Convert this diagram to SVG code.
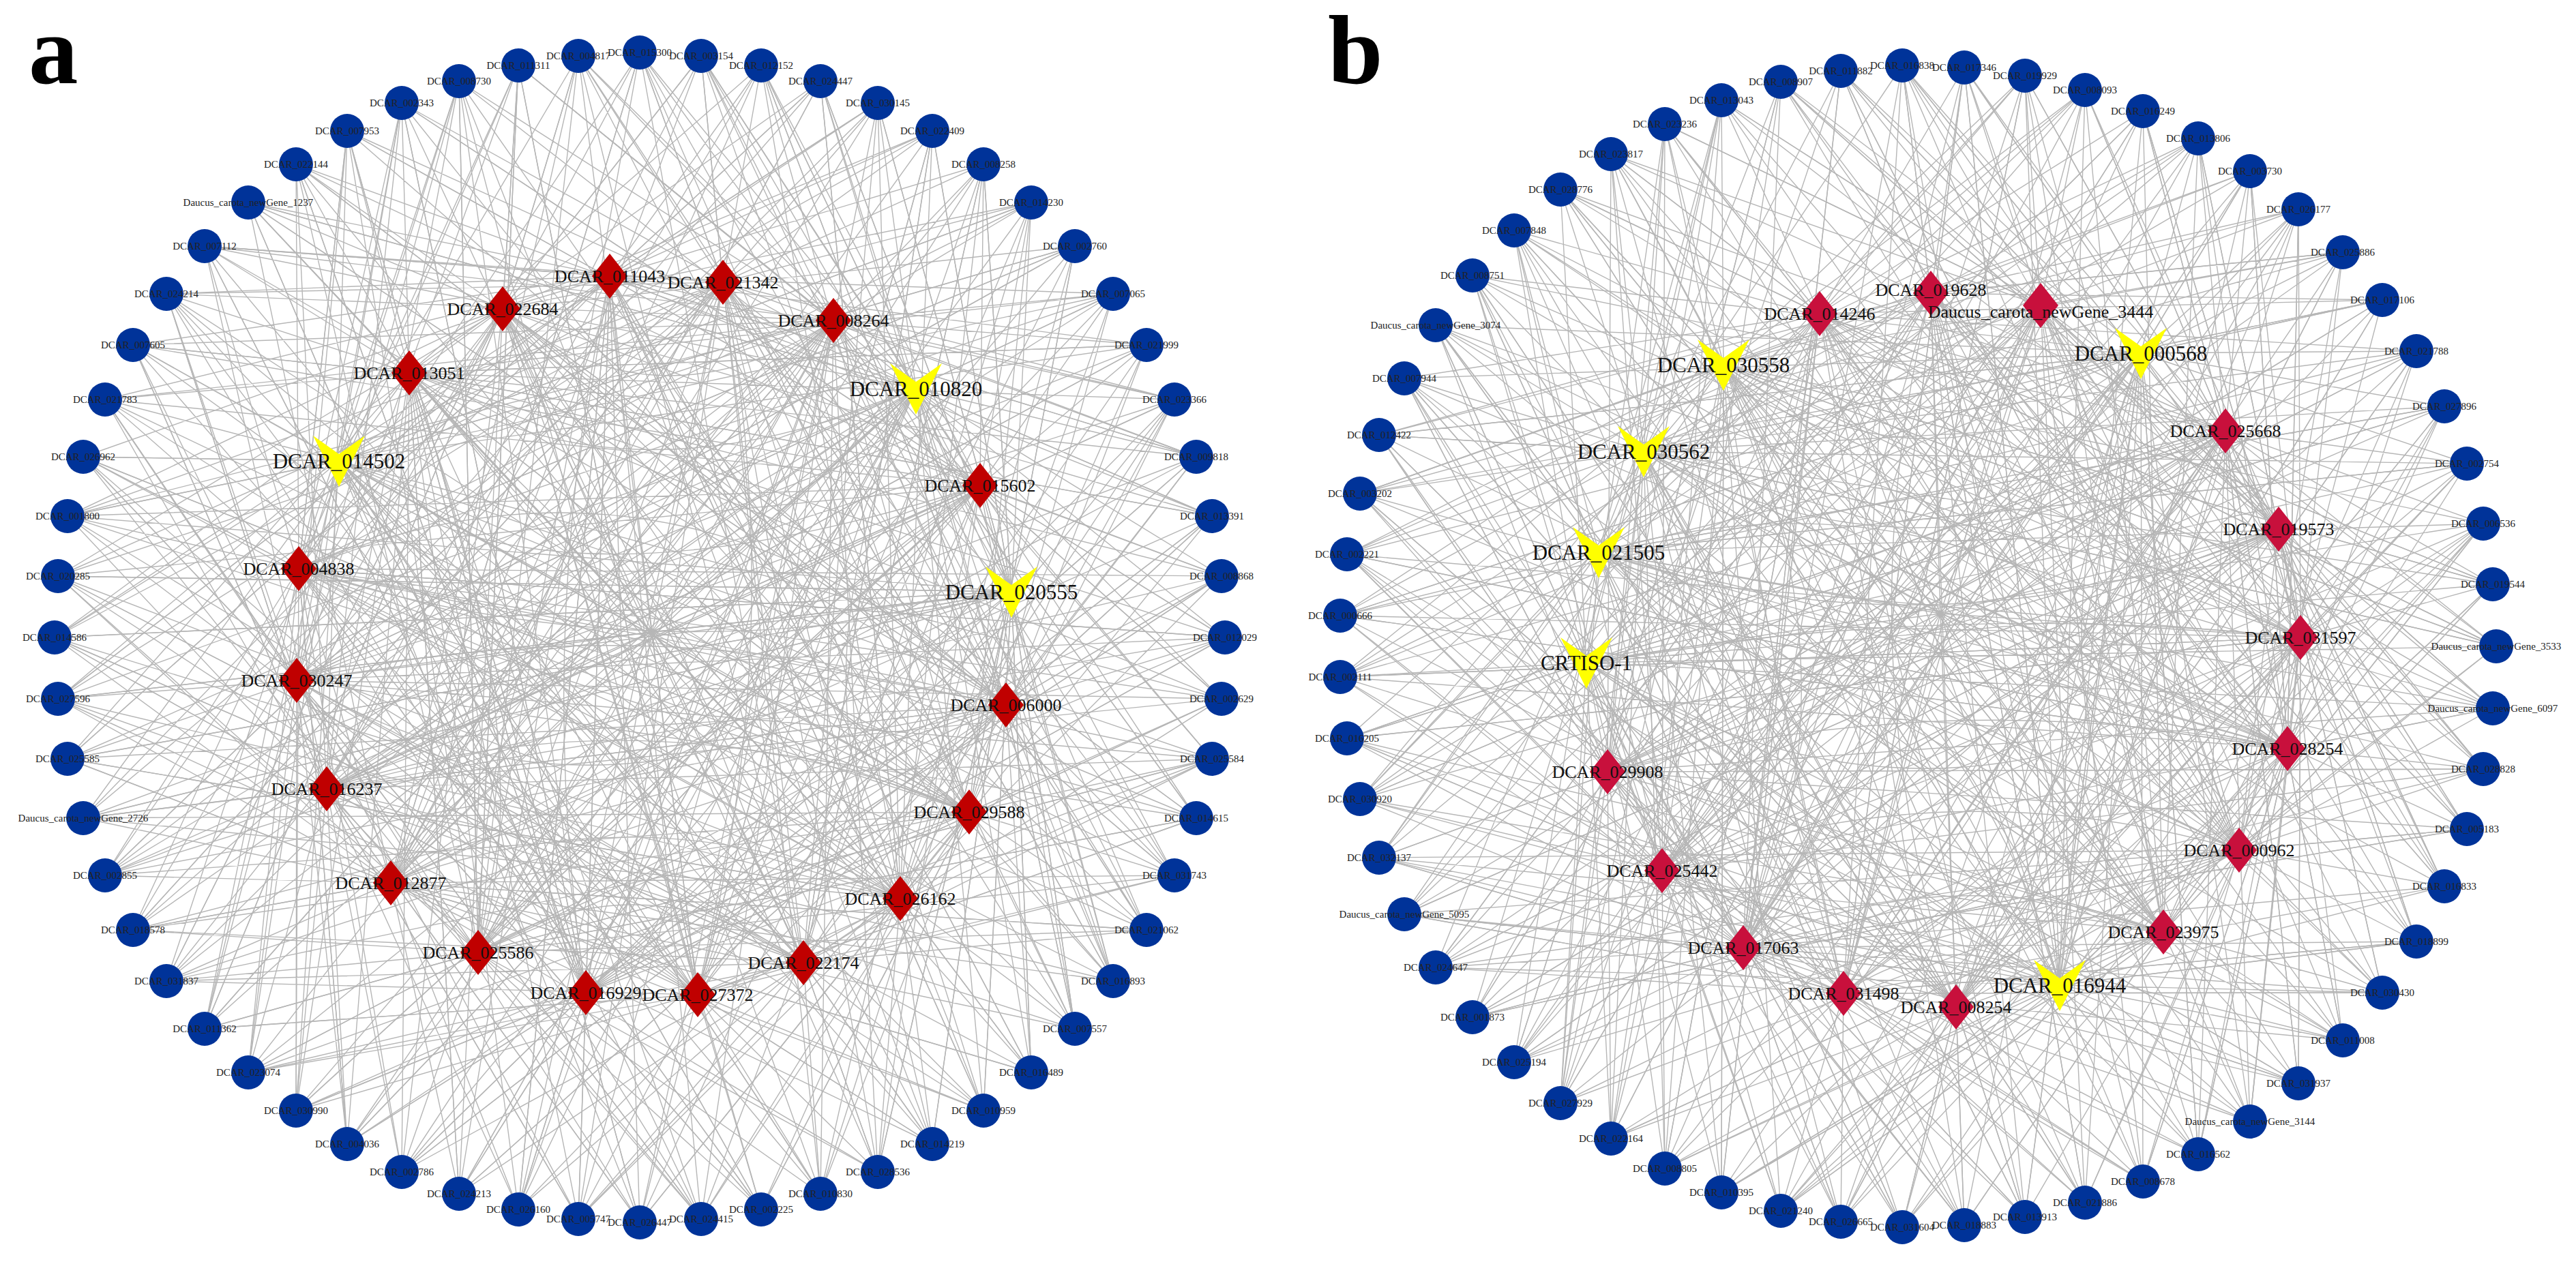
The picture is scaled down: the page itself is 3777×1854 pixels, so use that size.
<svg xmlns="http://www.w3.org/2000/svg" xmlns:xlink="http://www.w3.org/1999/xlink" width="3777" height="1854" viewBox="0 0 3777 1854">
<style>
.e{fill:none;stroke:#b6b6b6;stroke-width:1.4;stroke-linejoin:round}
.ou circle{fill:#003399}
.ou text{font-family:"Liberation Serif",serif;font-size:15px;fill:#222;text-anchor:middle}
.dn text,.vn text{font-family:"Liberation Serif",serif;fill:#111;text-anchor:middle}
.dn text{font-size:26px}
.vn text{font-size:31px}
.pa .dn use{fill:#c00000}
.pb .dn use{fill:#c8103c}
.vn use{fill:#ffff00}
.pl{font-family:"Liberation Serif",serif;font-size:145px;font-weight:bold;fill:#000}
</style>
<defs>
<path id="dia" d="M0 -33L26 0L0 33L-26 0Z"/>
<path id="vee" d="M-38 -37L0 -10L38 -37L0 38Z"/>
</defs>
<rect width="3777" height="1854" fill="#ffffff"/>
<text class="pl" x="42" y="122">a</text>
<text class="pl" x="1947" y="122">b</text>
<g id="connectors" class="e">
<path d="M938 77L737 453 1028 82 1437 712 1116 96 573 1295 1203 119 894 405 1287 151 1483 868 1367 192 1320 1318 1442 241 1060 414 1512 297 438 834 1576 361 701 1397 1632 431 1222 470 1681 506 435 998 1722 586 1178 1412 1754 670 600 547 1777 757 1475 1034 1791 845 859 1456 1796 935 1343 570 1791 1025 479 1157 1777 1113 1023 1459 1754 1200 497 676 1722 1284 1421 1191 1681 1364 737 453 1632 1439 1437 712 1576 1509 573 1295 1512 1573 894 405 1442 1629 1483 868 1367 1678 1320 1318 1287 1719 1060 414 1203 1751 438 834 1116 1774 701 1397 1028 1788 1222 470 938 1793 435 998 848 1788 1178 1412 760 1774 600 547 673 1751 1475 1034 589 1719 859 1456 509 1678 1343 570 434 1629 479 1157 364 1573 1023 1459 300 1509 497 676 244 1439 1421 1191 195 1364 737 453 154 1284 1437 712 122 1200 573 1295 99 1113 894 405 85 1025 1483 868 80 935 1320 1318 85 845 1060 414 99 757 438 834 122 670 701 1397 154 586 1222 470 195 506 435 998 244 431 1178 1412 300 361 600 547 364 297 1475 1034 434 241 859 1456 509 192 1343 570 589 151 479 1157 673 119 1023 1459 760 96 497 676 848 82 1421 1191 938 77"/>
<path d="M938 77L1343 570 1028 82 1483 868 1116 96 1475 1034 1203 119 573 1295 1287 151 1178 1412 1367 192 737 453 1442 241 1222 470 1512 297 497 676 1576 361 438 834 1632 431 479 1157 1681 506 1320 1318 1722 586 859 1456 1754 670 894 405 1777 757 600 547 1791 845 1437 712 1796 935 435 998 1791 1025 1421 1191 1777 1113 701 1397 1754 1200 1023 1459 1722 1284 1060 414 1681 1364 1343 570 1632 1439 1483 868 1576 1509 1475 1034 1512 1573 573 1295 1442 1629 1178 1412 1367 1678 737 453 1287 1719 1222 470 1203 1751 497 676 1116 1774 438 834 1028 1788 479 1157 938 1793 1320 1318 848 1788 859 1456 760 1774 894 405 673 1751 600 547 589 1719 1437 712 509 1678 435 998 434 1629 1421 1191 364 1573 701 1397 300 1509 1023 1459 244 1439 1060 414 195 1364 1343 570 154 1284 1483 868 122 1200 1475 1034 99 1113 573 1295 85 1025 1178 1412 80 935 737 453 85 845 1222 470 99 757 497 676 122 670 438 834 154 586 479 1157 195 506 1320 1318 244 431 859 1456 300 361 894 405 364 297 600 547 434 241 1437 712 509 192 435 998 589 151 1421 1191 673 119 701 1397 760 96 1023 1459 848 82 1060 414 938 77"/>
<path d="M938 77L1060 414 1028 82 1421 1191 1116 96 600 547 1203 119 1320 1318 1287 151 497 676 1367 192 1178 1412 1442 241 1483 868 1512 297 1023 1459 1576 361 435 998 1632 431 894 405 1681 506 479 1157 1722 586 1222 470 1754 670 573 1295 1777 757 1343 570 1791 845 701 1397 1796 935 1437 712 1791 1025 859 1456 1777 1113 438 834 1754 1200 737 453 1722 1284 1475 1034 1681 1364 1060 414 1632 1439 1421 1191 1576 1509 600 547 1512 1573 1320 1318 1442 1629 497 676 1367 1678 1178 1412 1287 1719 1483 868 1203 1751 1023 1459 1116 1774 435 998 1028 1788 894 405 938 1793 479 1157 848 1788 1222 470 760 1774 573 1295 673 1751 1343 570 589 1719 701 1397 509 1678 1437 712 434 1629 859 1456 364 1573 438 834 300 1509 737 453 244 1439 1475 1034 195 1364 1060 414 154 1284 1421 1191 122 1200 600 547 99 1113 1320 1318 85 1025 497 676 80 935 1178 1412 85 845 1483 868 99 757 1023 1459 122 670 435 998 154 586 894 405 195 506 479 1157 244 431 1222 470 300 361 573 1295 364 297 1343 570 434 241 701 1397 509 192 1437 712 589 151 859 1456 673 119 438 834 760 96 737 453 848 82 1475 1034 938 77"/>
<path d="M938 77L438 834 1028 82 1060 414 1116 96 1320 1318 1203 119 1483 868 1287 151 894 405 1367 192 573 1295 1442 241 1437 712 1512 297 737 453 1576 361 1421 1191 1632 431 497 676 1681 506 1023 1459 1722 586 479 1157 1754 670 1343 570 1777 757 859 1456 1791 845 1475 1034 1796 935 600 547 1791 1025 1178 1412 1777 1113 435 998 1754 1200 1222 470 1722 1284 701 1397 1681 1364 438 834 1632 1439 1060 414 1576 1509 1320 1318 1512 1573 1483 868 1442 1629 894 405 1367 1678 573 1295 1287 1719 1437 712 1203 1751 737 453 1116 1774 1421 1191 1028 1788 497 676 938 1793 1023 1459 848 1788 479 1157 760 1774 1343 570 673 1751 859 1456 589 1719 1475 1034 509 1678 600 547 434 1629 1178 1412 364 1573 435 998 300 1509 1222 470 244 1439 701 1397 195 1364 438 834 154 1284 1060 414 122 1200 1320 1318 99 1113 1483 868 85 1025 894 405 80 935 573 1295 85 845 1437 712 99 757 737 453 122 670 1421 1191 154 586 497 676 195 506 1023 1459 244 431 479 1157 300 361 1343 570 364 297 859 1456 434 241 1475 1034 509 192 600 547 589 151 1178 1412 673 119 435 998 760 96 1222 470 848 82 701 1397 938 77"/>
<path d="M938 77L573 1295 1028 82 1475 1034 1116 96 1483 868 1203 119 1343 570 1287 151 1060 414 1367 192 1023 1459 1442 241 701 1397 1512 297 1421 1191 1576 361 435 998 1632 431 1437 712 1681 506 600 547 1722 586 894 405 1754 670 859 1456 1777 757 1320 1318 1791 845 479 1157 1796 935 438 834 1791 1025 497 676 1777 1113 1222 470 1754 1200 737 453 1722 1284 1178 1412 1681 1364 573 1295 1632 1439 1475 1034 1576 1509 1483 868 1512 1573 1343 570 1442 1629 1060 414 1367 1678 1023 1459 1287 1719 701 1397 1203 1751 1421 1191 1116 1774 435 998 1028 1788 1437 712 938 1793 600 547 848 1788 894 405 760 1774 859 1456 673 1751 1320 1318 589 1719 479 1157 509 1678 438 834 434 1629 497 676 364 1573 1222 470 300 1509 737 453 244 1439 1178 1412 195 1364 573 1295 154 1284 1475 1034 122 1200 1483 868 99 1113 1343 570 85 1025 1060 414 80 935 1023 1459 85 845 701 1397 99 757 1421 1191 122 670 435 998 154 586 1437 712 195 506 600 547 244 431 894 405 300 361 859 1456 364 297 1320 1318 434 241 479 1157 509 192 438 834 589 151 497 676 673 119 1222 470 760 96 737 453 848 82 1178 1412 938 77"/>
<path d="M938 77L1222 470 1028 82 479 1157 1116 96 894 405 1203 119 435 998 1287 151 1023 1459 1367 192 1483 868 1442 241 1178 1412 1512 297 497 676 1576 361 1320 1318 1632 431 600 547 1681 506 1421 1191 1722 586 1060 414 1754 670 1475 1034 1777 757 737 453 1791 845 438 834 1796 935 859 1456 1791 1025 1437 712 1777 1113 701 1397 1754 1200 1343 570 1722 1284 573 1295 1681 1364 1222 470 1632 1439 479 1157 1576 1509 894 405 1512 1573 435 998 1442 1629 1023 1459 1367 1678 1483 868 1287 1719 1178 1412 1203 1751 497 676 1116 1774 1320 1318 1028 1788 600 547 938 1793 1421 1191 848 1788 1060 414 760 1774 1475 1034 673 1751 737 453 589 1719 438 834 509 1678 859 1456 434 1629 1437 712 364 1573 701 1397 300 1509 1343 570 244 1439 573 1295 195 1364 1222 470 154 1284 479 1157 122 1200 894 405 99 1113 435 998 85 1025 1023 1459 80 935 1483 868 85 845 1178 1412 99 757 497 676 122 670 1320 1318 154 586 600 547 195 506 1421 1191 244 431 1060 414 300 361 1475 1034 364 297 737 453 434 241 438 834 509 192 859 1456 589 151 1437 712 673 119 701 1397 760 96 1343 570 848 82 573 1295 938 77"/>
<path d="M737 453L435 998 1222 470 701 1397 1437 712 479 1157 894 405 1320 1318 438 834 1023 1459 600 547 1421 1191 497 676 1178 1412 1060 414 573 1295 1483 868 859 1456 1343 570 1475 1034 737 453"/>
<path d="M894 405L859 1456 1222 470 479 1157 1343 570 573 1295 1437 712 701 1397 1475 1034 438 834 1421 1191 600 547 1320 1318 737 453 1023 1459 497 676 1178 1412 435 998 1483 868 1060 414 701 1397"/>
<path d="M956 927L737 453M956 927L1060 414M956 927L1343 570M956 927L1483 868M956 927L1421 1191M956 927L1023 1459M956 927L701 1397M956 927L479 1157M956 927L438 834M956 927L600 547M956 927L894 405M956 927L1222 470M956 927L1437 712M956 927L1475 1034M956 927L1320 1318M956 927L859 1456M956 927L573 1295M956 927L435 998M956 927L497 676M956 927L1178 1412"/>
<path d="M737 453Q960 640 1222 470M600 547Q900 760 1343 570M497 676Q760 930 1437 712M438 834Q960 1000 1483 868M435 998Q960 880 1475 1034M479 1157Q960 1000 1421 1191M573 1295Q950 1150 1320 1318M701 1397Q940 1250 1178 1412M894 405Q780 930 859 1456M1060 414Q1160 930 1023 1459M600 547Q800 1100 701 1397M1343 570Q1150 1000 1320 1318M737 453Q1000 900 1421 1191M1222 470Q900 950 573 1295M894 405Q1200 900 1320 1318M1060 414Q700 900 701 1397M600 547Q1000 1000 1178 1412M1343 570Q900 1000 479 1157M497 676Q1000 1100 1023 1459M1437 712Q900 1100 859 1456M438 834Q1000 600 1475 1034M435 998Q950 1300 1483 868"/>
<path d="M3660 948L2668 460 3655 1039 2344 810 3641 1128 3283 1247 3617 1216 2831 430 3584 1300 3341 776 3543 1381 2556 1390 3493 1456 2992 448 3435 1526 2326 972 3370 1589 3172 1367 3299 1645 2527 535 3223 1693 3373 935 3142 1733 2703 1457 3057 1764 3139 518 2969 1785 2357 1132 2880 1797 2868 1477 2789 1800 2410 662 2699 1792 3354 1098 2611 1776 3020 1445 2524 1749 3263 632 2441 1714 2437 1277 2362 1670 2668 460 2288 1618 2344 810 2220 1558 3283 1247 2159 1492 2831 430 2105 1419 3341 776 2059 1341 2556 1390 2022 1258 2992 448 1994 1172 2326 972 1975 1083 3172 1367 1965 993 2527 535 1965 903 3373 935 1975 813 2703 1457 1994 724 3139 518 2022 638 2357 1132 2059 555 2868 1477 2105 477 2410 662 2159 404 3354 1098 2220 338 3020 1445 2288 278 3263 632 2362 226 2437 1277 2441 182 2668 460 2524 147 2344 810 2611 120 3283 1247 2699 104 2831 430 2789 96 3341 776 2880 99 2556 1390 2969 111 2992 448 3057 132 2326 972 3142 163 3172 1367 3223 203 2527 535 3299 251 3373 935 3370 307 2703 1457 3435 370 3139 518 3493 440 2357 1132 3543 515 2868 1477 3584 596 2410 662 3617 680 3354 1098 3641 768 3020 1445 3655 857 3263 632 3660 948"/>
<path d="M3660 948L2410 662 3655 1039 3341 776 3641 1128 2357 1132 3617 1216 3283 1247 3584 1300 2703 1457 3543 1381 2668 460 3493 1456 2527 535 3435 1526 3263 632 3370 1589 2326 972 3299 1645 3354 1098 3223 1693 2556 1390 3142 1733 2868 1477 3057 1764 2831 430 2969 1785 3139 518 2880 1797 2344 810 2789 1800 3373 935 2699 1792 2437 1277 2611 1776 3172 1367 2524 1749 3020 1445 2441 1714 2992 448 2362 1670 2410 662 2288 1618 3341 776 2220 1558 2357 1132 2159 1492 3283 1247 2105 1419 2703 1457 2059 1341 2668 460 2022 1258 2527 535 1994 1172 3263 632 1975 1083 2326 972 1965 993 3354 1098 1965 903 2556 1390 1975 813 2868 1477 1994 724 2831 430 2022 638 3139 518 2059 555 2344 810 2105 477 3373 935 2159 404 2437 1277 2220 338 3172 1367 2288 278 3020 1445 2362 226 2992 448 2441 182 2410 662 2524 147 3341 776 2611 120 2357 1132 2699 104 3283 1247 2789 96 2703 1457 2880 99 2668 460 2969 111 2527 535 3057 132 3263 632 3142 163 2326 972 3223 203 3354 1098 3299 251 2556 1390 3370 307 2868 1477 3435 370 2831 430 3493 440 3139 518 3543 515 2344 810 3584 596 3373 935 3617 680 2437 1277 3641 768 3172 1367 3655 857 3020 1445 3660 948"/>
<path d="M3660 948L2992 448 3655 1039 2437 1277 3641 1128 3139 518 3617 1216 2556 1390 3584 1300 3263 632 3543 1381 2703 1457 3493 1456 3341 776 3435 1526 3020 1445 3370 1589 3373 935 3299 1645 2831 430 3223 1693 3354 1098 3142 1733 2527 535 3057 1764 3283 1247 2969 1785 2410 662 2880 1797 3172 1367 2789 1800 2344 810 2699 1792 2868 1477 2611 1776 2326 972 2524 1749 2668 460 2441 1714 2357 1132 2362 1670 2992 448 2288 1618 2437 1277 2220 1558 3139 518 2159 1492 2556 1390 2105 1419 3263 632 2059 1341 2703 1457 2022 1258 3341 776 1994 1172 3020 1445 1975 1083 3373 935 1965 993 2831 430 1965 903 3354 1098 1975 813 2527 535 1994 724 3283 1247 2022 638 2410 662 2059 555 3172 1367 2105 477 2344 810 2159 404 2868 1477 2220 338 2326 972 2288 278 2668 460 2362 226 2357 1132 2441 182 2992 448 2524 147 2437 1277 2611 120 3139 518 2699 104 2556 1390 2789 96 3263 632 2880 99 2703 1457 2969 111 3341 776 3057 132 3020 1445 3142 163 3373 935 3223 203 2831 430 3299 251 3354 1098 3370 307 2527 535 3435 370 3283 1247 3493 440 2410 662 3543 515 3172 1367 3584 596 2344 810 3617 680 2868 1477 3641 768 2326 972 3655 857 2668 460 3660 948"/>
<path d="M3660 948L2326 972 3655 1039 2992 448 3641 1128 2556 1390 3617 1216 3341 776 3584 1300 2831 430 3543 1381 3283 1247 3493 1456 2344 810 3435 1526 2668 460 3370 1589 2437 1277 3299 1645 3263 632 3223 1693 3020 1445 3142 1733 3354 1098 3057 1764 2410 662 2969 1785 2868 1477 2880 1797 2357 1132 2789 1800 3139 518 2699 1792 2703 1457 2611 1776 3373 935 2524 1749 2527 535 2441 1714 3172 1367 2362 1670 2326 972 2288 1618 2992 448 2220 1558 2556 1390 2159 1492 3341 776 2105 1419 2831 430 2059 1341 3283 1247 2022 1258 2344 810 1994 1172 2668 460 1975 1083 2437 1277 1965 993 3263 632 1965 903 3020 1445 1975 813 3354 1098 1994 724 2410 662 2022 638 2868 1477 2059 555 2357 1132 2105 477 3139 518 2159 404 2703 1457 2220 338 3373 935 2288 278 2527 535 2362 226 3172 1367 2441 182 2326 972 2524 147 2992 448 2611 120 2556 1390 2699 104 3341 776 2789 96 2831 430 2880 99 3283 1247 2969 111 2344 810 3057 132 2668 460 3142 163 2437 1277 3223 203 3263 632 3299 251 3020 1445 3370 307 3354 1098 3435 370 2410 662 3493 440 2868 1477 3543 515 2357 1132 3584 596 3139 518 3617 680 2703 1457 3641 768 3373 935 3655 857 2527 535 3660 948"/>
<path d="M3660 948L3283 1247 3655 1039 2357 1132 3641 1128 3341 776 3617 1216 2410 662 3584 1300 2992 448 3543 1381 3020 1445 3493 1456 3172 1367 3435 1526 2437 1277 3370 1589 3373 935 3299 1645 2344 810 3223 1693 3139 518 3142 1733 2831 430 3057 1764 2868 1477 2969 1785 2556 1390 2880 1797 3354 1098 2789 1800 2326 972 2699 1792 3263 632 2611 1776 2527 535 2524 1749 2668 460 2441 1714 2703 1457 2362 1670 3283 1247 2288 1618 2357 1132 2220 1558 3341 776 2159 1492 2410 662 2105 1419 2992 448 2059 1341 3020 1445 2022 1258 3172 1367 1994 1172 2437 1277 1975 1083 3373 935 1965 993 2344 810 1965 903 3139 518 1975 813 2831 430 1994 724 2868 1477 2022 638 2556 1390 2059 555 3354 1098 2105 477 2326 972 2159 404 3263 632 2220 338 2527 535 2288 278 2668 460 2362 226 2703 1457 2441 182 3283 1247 2524 147 2357 1132 2611 120 3341 776 2699 104 2410 662 2789 96 2992 448 2880 99 3020 1445 2969 111 3172 1367 3057 132 2437 1277 3142 163 3373 935 3223 203 2344 810 3299 251 3139 518 3370 307 2831 430 3435 370 2868 1477 3493 440 2556 1390 3543 515 3354 1098 3584 596 2326 972 3617 680 3263 632 3641 768 2527 535 3655 857 2668 460 3660 948"/>
<path d="M3660 948L2527 535 3655 1039 3354 1098 3641 1128 2831 430 3617 1216 3373 935 3584 1300 3020 1445 3543 1381 3341 776 3493 1456 2703 1457 3435 1526 3263 632 3370 1589 2556 1390 3299 1645 3139 518 3223 1693 2437 1277 3142 1733 2992 448 3057 1764 2357 1132 2969 1785 2668 460 2880 1797 2326 972 2789 1800 2868 1477 2699 1792 2344 810 2611 1776 3172 1367 2524 1749 2410 662 2441 1714 3283 1247 2362 1670 2527 535 2288 1618 3354 1098 2220 1558 2831 430 2159 1492 3373 935 2105 1419 3020 1445 2059 1341 3341 776 2022 1258 2703 1457 1994 1172 3263 632 1975 1083 2556 1390 1965 993 3139 518 1965 903 2437 1277 1975 813 2992 448 1994 724 2357 1132 2022 638 2668 460 2059 555 2326 972 2105 477 2868 1477 2159 404 2344 810 2220 338 3172 1367 2288 278 2410 662 2362 226 3283 1247 2441 182 2527 535 2524 147 3354 1098 2611 120 2831 430 2699 104 3373 935 2789 96 3020 1445 2880 99 3341 776 2969 111 2703 1457 3057 132 3263 632 3142 163 2556 1390 3223 203 3139 518 3299 251 2437 1277 3370 307 2992 448 3435 370 2357 1132 3493 440 2668 460 3543 515 2326 972 3584 596 2868 1477 3617 680 2344 810 3641 768 3172 1367 3655 857 2410 662 3660 948"/>
<path d="M2668 460L3373 935 2527 535 3172 1367 2344 810 3354 1098 2831 430 2556 1390 2326 972 3020 1445 3139 518 2437 1277 3263 632 2703 1457 2992 448 3283 1247 3341 776 2868 1477 2410 662 2357 1132 2668 460"/>
<path d="M2831 430L2868 1477 2527 535 3354 1098 2410 662 3283 1247 2344 810 3172 1367 2357 1132 2326 972 2437 1277 3139 518 2556 1390 2668 460 3020 1445 3263 632 2703 1457 3373 935 3341 776 2992 448 3172 1367"/>
<path d="M2845 900L2668 460M2845 900L2992 448M2845 900L3263 632M2845 900L3373 935M2845 900L3283 1247M2845 900L3020 1445M2845 900L2703 1457M2845 900L2437 1277M2845 900L2326 972M2845 900L2410 662M2845 900L2831 430M2845 900L3139 518M2845 900L3341 776M2845 900L3354 1098M2845 900L3172 1367M2845 900L2868 1477M2845 900L2556 1390M2845 900L2357 1132M2845 900L2344 810M2845 900L2527 535"/>
<path d="M2668 460Q2840 640 2992 448M2527 535Q2840 760 3139 518M2410 662Q2840 900 3263 632M2344 810Q2850 980 3341 776M2326 972Q2850 880 3373 935M2357 1132Q2850 1000 3354 1098M2437 1277Q2850 1120 3283 1247M2556 1390Q2860 1250 3172 1367M2703 1457Q2860 1350 3020 1445M2831 430Q2700 950 2868 1477M2527 535Q2740 1000 2556 1390M3139 518Q2950 1000 3172 1367M2668 460Q2900 900 3283 1247M2992 448Q2700 950 2437 1277M2831 430Q3100 900 3172 1367M2527 535Q2600 1000 2703 1457M3139 518Q2800 1000 2556 1390M2410 662Q2900 1000 3020 1445M3263 632Q2800 1050 2357 1132M3341 776Q2900 1200 2868 1477M2344 810Q2900 650 3354 1098M2326 972Q2850 1300 3373 935"/>
</g>
<g id="panel-a" class="pa">
<g id="a-outer" class="ou">
<g id="a-DCAR_015300"><circle cx="938" cy="77" r="25"/><text x="938" y="82">DCAR_015300</text></g>
<g id="a-DCAR_003154"><circle cx="1028" cy="82" r="25"/><text x="1028" y="87">DCAR_003154</text></g>
<g id="a-DCAR_012152"><circle cx="1116" cy="96" r="25"/><text x="1116" y="101">DCAR_012152</text></g>
<g id="a-DCAR_024447"><circle cx="1203" cy="119" r="25"/><text x="1203" y="124">DCAR_024447</text></g>
<g id="a-DCAR_030145"><circle cx="1287" cy="151" r="25"/><text x="1287" y="156">DCAR_030145</text></g>
<g id="a-DCAR_022409"><circle cx="1367" cy="192" r="25"/><text x="1367" y="197">DCAR_022409</text></g>
<g id="a-DCAR_008258"><circle cx="1442" cy="241" r="25"/><text x="1442" y="246">DCAR_008258</text></g>
<g id="a-DCAR_014230"><circle cx="1512" cy="297" r="25"/><text x="1512" y="302">DCAR_014230</text></g>
<g id="a-DCAR_002760"><circle cx="1576" cy="361" r="25"/><text x="1576" y="366">DCAR_002760</text></g>
<g id="a-DCAR_007065"><circle cx="1632" cy="431" r="25"/><text x="1632" y="436">DCAR_007065</text></g>
<g id="a-DCAR_021999"><circle cx="1681" cy="506" r="25"/><text x="1681" y="511">DCAR_021999</text></g>
<g id="a-DCAR_023366"><circle cx="1722" cy="586" r="25"/><text x="1722" y="591">DCAR_023366</text></g>
<g id="a-DCAR_009818"><circle cx="1754" cy="670" r="25"/><text x="1754" y="675">DCAR_009818</text></g>
<g id="a-DCAR_013391"><circle cx="1777" cy="757" r="25"/><text x="1777" y="762">DCAR_013391</text></g>
<g id="a-DCAR_008868"><circle cx="1791" cy="845" r="25"/><text x="1791" y="850">DCAR_008868</text></g>
<g id="a-DCAR_012029"><circle cx="1796" cy="935" r="25"/><text x="1796" y="940">DCAR_012029</text></g>
<g id="a-DCAR_002629"><circle cx="1791" cy="1025" r="25"/><text x="1791" y="1030">DCAR_002629</text></g>
<g id="a-DCAR_025584"><circle cx="1777" cy="1113" r="25"/><text x="1777" y="1118">DCAR_025584</text></g>
<g id="a-DCAR_014615"><circle cx="1754" cy="1200" r="25"/><text x="1754" y="1205">DCAR_014615</text></g>
<g id="a-DCAR_031743"><circle cx="1722" cy="1284" r="25"/><text x="1722" y="1289">DCAR_031743</text></g>
<g id="a-DCAR_021062"><circle cx="1681" cy="1364" r="25"/><text x="1681" y="1369">DCAR_021062</text></g>
<g id="a-DCAR_016893"><circle cx="1632" cy="1439" r="25"/><text x="1632" y="1444">DCAR_016893</text></g>
<g id="a-DCAR_007557"><circle cx="1576" cy="1509" r="25"/><text x="1576" y="1514">DCAR_007557</text></g>
<g id="a-DCAR_016489"><circle cx="1512" cy="1573" r="25"/><text x="1512" y="1578">DCAR_016489</text></g>
<g id="a-DCAR_010959"><circle cx="1442" cy="1629" r="25"/><text x="1442" y="1634">DCAR_010959</text></g>
<g id="a-DCAR_014219"><circle cx="1367" cy="1678" r="25"/><text x="1367" y="1683">DCAR_014219</text></g>
<g id="a-DCAR_028536"><circle cx="1287" cy="1719" r="25"/><text x="1287" y="1724">DCAR_028536</text></g>
<g id="a-DCAR_010830"><circle cx="1203" cy="1751" r="25"/><text x="1203" y="1756">DCAR_010830</text></g>
<g id="a-DCAR_002225"><circle cx="1116" cy="1774" r="25"/><text x="1116" y="1779">DCAR_002225</text></g>
<g id="a-DCAR_024415"><circle cx="1028" cy="1788" r="25"/><text x="1028" y="1793">DCAR_024415</text></g>
<g id="a-DCAR_026447"><circle cx="938" cy="1793" r="25"/><text x="938" y="1798">DCAR_026447</text></g>
<g id="a-DCAR_005747"><circle cx="848" cy="1788" r="25"/><text x="848" y="1793">DCAR_005747</text></g>
<g id="a-DCAR_026160"><circle cx="760" cy="1774" r="25"/><text x="760" y="1779">DCAR_026160</text></g>
<g id="a-DCAR_024213"><circle cx="673" cy="1751" r="25"/><text x="673" y="1756">DCAR_024213</text></g>
<g id="a-DCAR_002786"><circle cx="589" cy="1719" r="25"/><text x="589" y="1724">DCAR_002786</text></g>
<g id="a-DCAR_004036"><circle cx="509" cy="1678" r="25"/><text x="509" y="1683">DCAR_004036</text></g>
<g id="a-DCAR_030990"><circle cx="434" cy="1629" r="25"/><text x="434" y="1634">DCAR_030990</text></g>
<g id="a-DCAR_023074"><circle cx="364" cy="1573" r="25"/><text x="364" y="1578">DCAR_023074</text></g>
<g id="a-DCAR_011362"><circle cx="300" cy="1509" r="25"/><text x="300" y="1514">DCAR_011362</text></g>
<g id="a-DCAR_031837"><circle cx="244" cy="1439" r="25"/><text x="244" y="1444">DCAR_031837</text></g>
<g id="a-DCAR_018578"><circle cx="195" cy="1364" r="25"/><text x="195" y="1369">DCAR_018578</text></g>
<g id="a-DCAR_002855"><circle cx="154" cy="1284" r="25"/><text x="154" y="1289">DCAR_002855</text></g>
<g id="a-Daucus_carota_newGene_2726"><circle cx="122" cy="1200" r="25"/><text x="122" y="1205">Daucus_carota_newGene_2726</text></g>
<g id="a-DCAR_025585"><circle cx="99" cy="1113" r="25"/><text x="99" y="1118">DCAR_025585</text></g>
<g id="a-DCAR_027596"><circle cx="85" cy="1025" r="25"/><text x="85" y="1030">DCAR_027596</text></g>
<g id="a-DCAR_014586"><circle cx="80" cy="935" r="25"/><text x="80" y="940">DCAR_014586</text></g>
<g id="a-DCAR_020285"><circle cx="85" cy="845" r="25"/><text x="85" y="850">DCAR_020285</text></g>
<g id="a-DCAR_001800"><circle cx="99" cy="757" r="25"/><text x="99" y="762">DCAR_001800</text></g>
<g id="a-DCAR_026962"><circle cx="122" cy="670" r="25"/><text x="122" y="675">DCAR_026962</text></g>
<g id="a-DCAR_021783"><circle cx="154" cy="586" r="25"/><text x="154" y="591">DCAR_021783</text></g>
<g id="a-DCAR_007605"><circle cx="195" cy="506" r="25"/><text x="195" y="511">DCAR_007605</text></g>
<g id="a-DCAR_024214"><circle cx="244" cy="431" r="25"/><text x="244" y="436">DCAR_024214</text></g>
<g id="a-DCAR_007112"><circle cx="300" cy="361" r="25"/><text x="300" y="366">DCAR_007112</text></g>
<g id="a-Daucus_carota_newGene_1237"><circle cx="364" cy="297" r="25"/><text x="364" y="302">Daucus_carota_newGene_1237</text></g>
<g id="a-DCAR_022144"><circle cx="434" cy="241" r="25"/><text x="434" y="246">DCAR_022144</text></g>
<g id="a-DCAR_007953"><circle cx="509" cy="192" r="25"/><text x="509" y="197">DCAR_007953</text></g>
<g id="a-DCAR_002343"><circle cx="589" cy="151" r="25"/><text x="589" y="156">DCAR_002343</text></g>
<g id="a-DCAR_008730"><circle cx="673" cy="119" r="25"/><text x="673" y="124">DCAR_008730</text></g>
<g id="a-DCAR_011311"><circle cx="760" cy="96" r="25"/><text x="760" y="101">DCAR_011311</text></g>
<g id="a-DCAR_004817"><circle cx="848" cy="82" r="25"/><text x="848" y="87">DCAR_004817</text></g>
</g>
<g id="a-inner">
<g id="a-DCAR_022684" class="dn"><use href="#dia" x="737" y="453"/><text x="737" y="462">DCAR_022684</text></g>
<g id="a-DCAR_011043" class="dn"><use href="#dia" x="894" y="405"/><text x="894" y="414">DCAR_011043</text></g>
<g id="a-DCAR_021342" class="dn"><use href="#dia" x="1060" y="414"/><text x="1060" y="423">DCAR_021342</text></g>
<g id="a-DCAR_008264" class="dn"><use href="#dia" x="1222" y="470"/><text x="1222" y="479">DCAR_008264</text></g>
<g id="a-DCAR_013051" class="dn"><use href="#dia" x="600" y="547"/><text x="600" y="556">DCAR_013051</text></g>
<g id="a-DCAR_010820" class="vn"><use href="#vee" x="1343" y="570"/><text x="1343" y="581">DCAR_010820</text></g>
<g id="a-DCAR_014502" class="vn"><use href="#vee" x="497" y="676"/><text x="497" y="687">DCAR_014502</text></g>
<g id="a-DCAR_015602" class="dn"><use href="#dia" x="1437" y="712"/><text x="1437" y="721">DCAR_015602</text></g>
<g id="a-DCAR_020555" class="vn"><use href="#vee" x="1483" y="868"/><text x="1483" y="879">DCAR_020555</text></g>
<g id="a-DCAR_004838" class="dn"><use href="#dia" x="438" y="834"/><text x="438" y="843">DCAR_004838</text></g>
<g id="a-DCAR_030247" class="dn"><use href="#dia" x="435" y="998"/><text x="435" y="1007">DCAR_030247</text></g>
<g id="a-DCAR_006000" class="dn"><use href="#dia" x="1475" y="1034"/><text x="1475" y="1043">DCAR_006000</text></g>
<g id="a-DCAR_016237" class="dn"><use href="#dia" x="479" y="1157"/><text x="479" y="1166">DCAR_016237</text></g>
<g id="a-DCAR_029588" class="dn"><use href="#dia" x="1421" y="1191"/><text x="1421" y="1200">DCAR_029588</text></g>
<g id="a-DCAR_012877" class="dn"><use href="#dia" x="573" y="1295"/><text x="573" y="1304">DCAR_012877</text></g>
<g id="a-DCAR_026162" class="dn"><use href="#dia" x="1320" y="1318"/><text x="1320" y="1327">DCAR_026162</text></g>
<g id="a-DCAR_025586" class="dn"><use href="#dia" x="701" y="1397"/><text x="701" y="1406">DCAR_025586</text></g>
<g id="a-DCAR_022174" class="dn"><use href="#dia" x="1178" y="1412"/><text x="1178" y="1421">DCAR_022174</text></g>
<g id="a-DCAR_016929" class="dn"><use href="#dia" x="859" y="1456"/><text x="859" y="1465">DCAR_016929</text></g>
<g id="a-DCAR_027372" class="dn"><use href="#dia" x="1023" y="1459"/><text x="1023" y="1468">DCAR_027372</text></g>
</g>
</g>
<g id="panel-b" class="pb">
<g id="b-outer" class="ou">
<g id="b-Daucus_carota_newGene_3533"><circle cx="3660" cy="948" r="25"/><text x="3660" y="953">Daucus_carota_newGene_3533</text></g>
<g id="b-Daucus_carota_newGene_6097"><circle cx="3655" cy="1039" r="25"/><text x="3655" y="1044">Daucus_carota_newGene_6097</text></g>
<g id="b-DCAR_028828"><circle cx="3641" cy="1128" r="25"/><text x="3641" y="1133">DCAR_028828</text></g>
<g id="b-DCAR_005183"><circle cx="3617" cy="1216" r="25"/><text x="3617" y="1221">DCAR_005183</text></g>
<g id="b-DCAR_016833"><circle cx="3584" cy="1300" r="25"/><text x="3584" y="1305">DCAR_016833</text></g>
<g id="b-DCAR_018899"><circle cx="3543" cy="1381" r="25"/><text x="3543" y="1386">DCAR_018899</text></g>
<g id="b-DCAR_030430"><circle cx="3493" cy="1456" r="25"/><text x="3493" y="1461">DCAR_030430</text></g>
<g id="b-DCAR_011008"><circle cx="3435" cy="1526" r="25"/><text x="3435" y="1531">DCAR_011008</text></g>
<g id="b-DCAR_031937"><circle cx="3370" cy="1589" r="25"/><text x="3370" y="1594">DCAR_031937</text></g>
<g id="b-Daucus_carota_newGene_3144"><circle cx="3299" cy="1645" r="25"/><text x="3299" y="1650">Daucus_carota_newGene_3144</text></g>
<g id="b-DCAR_016562"><circle cx="3223" cy="1693" r="25"/><text x="3223" y="1698">DCAR_016562</text></g>
<g id="b-DCAR_008678"><circle cx="3142" cy="1733" r="25"/><text x="3142" y="1738">DCAR_008678</text></g>
<g id="b-DCAR_021886"><circle cx="3057" cy="1764" r="25"/><text x="3057" y="1769">DCAR_021886</text></g>
<g id="b-DCAR_013913"><circle cx="2969" cy="1785" r="25"/><text x="2969" y="1790">DCAR_013913</text></g>
<g id="b-DCAR_018883"><circle cx="2880" cy="1797" r="25"/><text x="2880" y="1802">DCAR_018883</text></g>
<g id="b-DCAR_031604"><circle cx="2789" cy="1800" r="25"/><text x="2789" y="1805">DCAR_031604</text></g>
<g id="b-DCAR_026665"><circle cx="2699" cy="1792" r="25"/><text x="2699" y="1797">DCAR_026665</text></g>
<g id="b-DCAR_021240"><circle cx="2611" cy="1776" r="25"/><text x="2611" y="1781">DCAR_021240</text></g>
<g id="b-DCAR_010395"><circle cx="2524" cy="1749" r="25"/><text x="2524" y="1754">DCAR_010395</text></g>
<g id="b-DCAR_008805"><circle cx="2441" cy="1714" r="25"/><text x="2441" y="1719">DCAR_008805</text></g>
<g id="b-DCAR_022164"><circle cx="2362" cy="1670" r="25"/><text x="2362" y="1675">DCAR_022164</text></g>
<g id="b-DCAR_027929"><circle cx="2288" cy="1618" r="25"/><text x="2288" y="1623">DCAR_027929</text></g>
<g id="b-DCAR_025194"><circle cx="2220" cy="1558" r="25"/><text x="2220" y="1563">DCAR_025194</text></g>
<g id="b-DCAR_001873"><circle cx="2159" cy="1492" r="25"/><text x="2159" y="1497">DCAR_001873</text></g>
<g id="b-DCAR_024647"><circle cx="2105" cy="1419" r="25"/><text x="2105" y="1424">DCAR_024647</text></g>
<g id="b-Daucus_carota_newGene_5095"><circle cx="2059" cy="1341" r="25"/><text x="2059" y="1346">Daucus_carota_newGene_5095</text></g>
<g id="b-DCAR_032137"><circle cx="2022" cy="1258" r="25"/><text x="2022" y="1263">DCAR_032137</text></g>
<g id="b-DCAR_030920"><circle cx="1994" cy="1172" r="25"/><text x="1994" y="1177">DCAR_030920</text></g>
<g id="b-DCAR_016205"><circle cx="1975" cy="1083" r="25"/><text x="1975" y="1088">DCAR_016205</text></g>
<g id="b-DCAR_002111"><circle cx="1965" cy="993" r="25"/><text x="1965" y="998">DCAR_002111</text></g>
<g id="b-DCAR_000666"><circle cx="1965" cy="903" r="25"/><text x="1965" y="908">DCAR_000666</text></g>
<g id="b-DCAR_002221"><circle cx="1975" cy="813" r="25"/><text x="1975" y="818">DCAR_002221</text></g>
<g id="b-DCAR_003202"><circle cx="1994" cy="724" r="25"/><text x="1994" y="729">DCAR_003202</text></g>
<g id="b-DCAR_012422"><circle cx="2022" cy="638" r="25"/><text x="2022" y="643">DCAR_012422</text></g>
<g id="b-DCAR_007944"><circle cx="2059" cy="555" r="25"/><text x="2059" y="560">DCAR_007944</text></g>
<g id="b-Daucus_carota_newGene_3074"><circle cx="2105" cy="477" r="25"/><text x="2105" y="482">Daucus_carota_newGene_3074</text></g>
<g id="b-DCAR_008751"><circle cx="2159" cy="404" r="25"/><text x="2159" y="409">DCAR_008751</text></g>
<g id="b-DCAR_007848"><circle cx="2220" cy="338" r="25"/><text x="2220" y="343">DCAR_007848</text></g>
<g id="b-DCAR_028776"><circle cx="2288" cy="278" r="25"/><text x="2288" y="283">DCAR_028776</text></g>
<g id="b-DCAR_023817"><circle cx="2362" cy="226" r="25"/><text x="2362" y="231">DCAR_023817</text></g>
<g id="b-DCAR_023236"><circle cx="2441" cy="182" r="25"/><text x="2441" y="187">DCAR_023236</text></g>
<g id="b-DCAR_013043"><circle cx="2524" cy="147" r="25"/><text x="2524" y="152">DCAR_013043</text></g>
<g id="b-DCAR_008907"><circle cx="2611" cy="120" r="25"/><text x="2611" y="125">DCAR_008907</text></g>
<g id="b-DCAR_011882"><circle cx="2699" cy="104" r="25"/><text x="2699" y="109">DCAR_011882</text></g>
<g id="b-DCAR_016838"><circle cx="2789" cy="96" r="25"/><text x="2789" y="101">DCAR_016838</text></g>
<g id="b-DCAR_017346"><circle cx="2880" cy="99" r="25"/><text x="2880" y="104">DCAR_017346</text></g>
<g id="b-DCAR_019929"><circle cx="2969" cy="111" r="25"/><text x="2969" y="116">DCAR_019929</text></g>
<g id="b-DCAR_008093"><circle cx="3057" cy="132" r="25"/><text x="3057" y="137">DCAR_008093</text></g>
<g id="b-DCAR_016249"><circle cx="3142" cy="163" r="25"/><text x="3142" y="168">DCAR_016249</text></g>
<g id="b-DCAR_013806"><circle cx="3223" cy="203" r="25"/><text x="3223" y="208">DCAR_013806</text></g>
<g id="b-DCAR_003730"><circle cx="3299" cy="251" r="25"/><text x="3299" y="256">DCAR_003730</text></g>
<g id="b-DCAR_026177"><circle cx="3370" cy="307" r="25"/><text x="3370" y="312">DCAR_026177</text></g>
<g id="b-DCAR_025886"><circle cx="3435" cy="370" r="25"/><text x="3435" y="375">DCAR_025886</text></g>
<g id="b-DCAR_017106"><circle cx="3493" cy="440" r="25"/><text x="3493" y="445">DCAR_017106</text></g>
<g id="b-DCAR_021788"><circle cx="3543" cy="515" r="25"/><text x="3543" y="520">DCAR_021788</text></g>
<g id="b-DCAR_027896"><circle cx="3584" cy="596" r="25"/><text x="3584" y="601">DCAR_027896</text></g>
<g id="b-DCAR_002754"><circle cx="3617" cy="680" r="25"/><text x="3617" y="685">DCAR_002754</text></g>
<g id="b-DCAR_006536"><circle cx="3641" cy="768" r="25"/><text x="3641" y="773">DCAR_006536</text></g>
<g id="b-DCAR_019544"><circle cx="3655" cy="857" r="25"/><text x="3655" y="862">DCAR_019544</text></g>
</g>
<g id="b-inner">
<g id="b-DCAR_014246" class="dn"><use href="#dia" x="2668" y="460"/><text x="2668" y="469">DCAR_014246</text></g>
<g id="b-DCAR_019628" class="dn"><use href="#dia" x="2831" y="430"/><text x="2831" y="434">DCAR_019628</text></g>
<g id="b-Daucus_carota_newGene_3444" class="dn"><use href="#dia" x="2992" y="448"/><text x="2992" y="466">Daucus_carota_newGene_3444</text></g>
<g id="b-DCAR_030558" class="vn"><use href="#vee" x="2527" y="535"/><text x="2527" y="546">DCAR_030558</text></g>
<g id="b-DCAR_000568" class="vn"><use href="#vee" x="3139" y="518"/><text x="3139" y="529">DCAR_000568</text></g>
<g id="b-DCAR_030562" class="vn"><use href="#vee" x="2410" y="662"/><text x="2410" y="673">DCAR_030562</text></g>
<g id="b-DCAR_025668" class="dn"><use href="#dia" x="3263" y="632"/><text x="3263" y="641">DCAR_025668</text></g>
<g id="b-DCAR_021505" class="vn"><use href="#vee" x="2344" y="810"/><text x="2344" y="821">DCAR_021505</text></g>
<g id="b-DCAR_019573" class="dn"><use href="#dia" x="3341" y="776"/><text x="3341" y="785">DCAR_019573</text></g>
<g id="b-CRTISO-1" class="vn"><use href="#vee" x="2326" y="972"/><text x="2326" y="983">CRTISO-1</text></g>
<g id="b-DCAR_031597" class="dn"><use href="#dia" x="3373" y="935"/><text x="3373" y="944">DCAR_031597</text></g>
<g id="b-DCAR_029908" class="dn"><use href="#dia" x="2357" y="1132"/><text x="2357" y="1141">DCAR_029908</text></g>
<g id="b-DCAR_028254" class="dn"><use href="#dia" x="3354" y="1098"/><text x="3354" y="1107">DCAR_028254</text></g>
<g id="b-DCAR_025442" class="dn"><use href="#dia" x="2437" y="1277"/><text x="2437" y="1286">DCAR_025442</text></g>
<g id="b-DCAR_000962" class="dn"><use href="#dia" x="3283" y="1247"/><text x="3283" y="1256">DCAR_000962</text></g>
<g id="b-DCAR_017063" class="dn"><use href="#dia" x="2556" y="1390"/><text x="2556" y="1399">DCAR_017063</text></g>
<g id="b-DCAR_023975" class="dn"><use href="#dia" x="3172" y="1367"/><text x="3172" y="1376">DCAR_023975</text></g>
<g id="b-DCAR_031498" class="dn"><use href="#dia" x="2703" y="1457"/><text x="2703" y="1466">DCAR_031498</text></g>
<g id="b-DCAR_008254" class="dn"><use href="#dia" x="2868" y="1477"/><text x="2868" y="1486">DCAR_008254</text></g>
<g id="b-DCAR_016944" class="vn"><use href="#vee" x="3020" y="1445"/><text x="3020" y="1456">DCAR_016944</text></g>
</g>
</g>
</svg>
